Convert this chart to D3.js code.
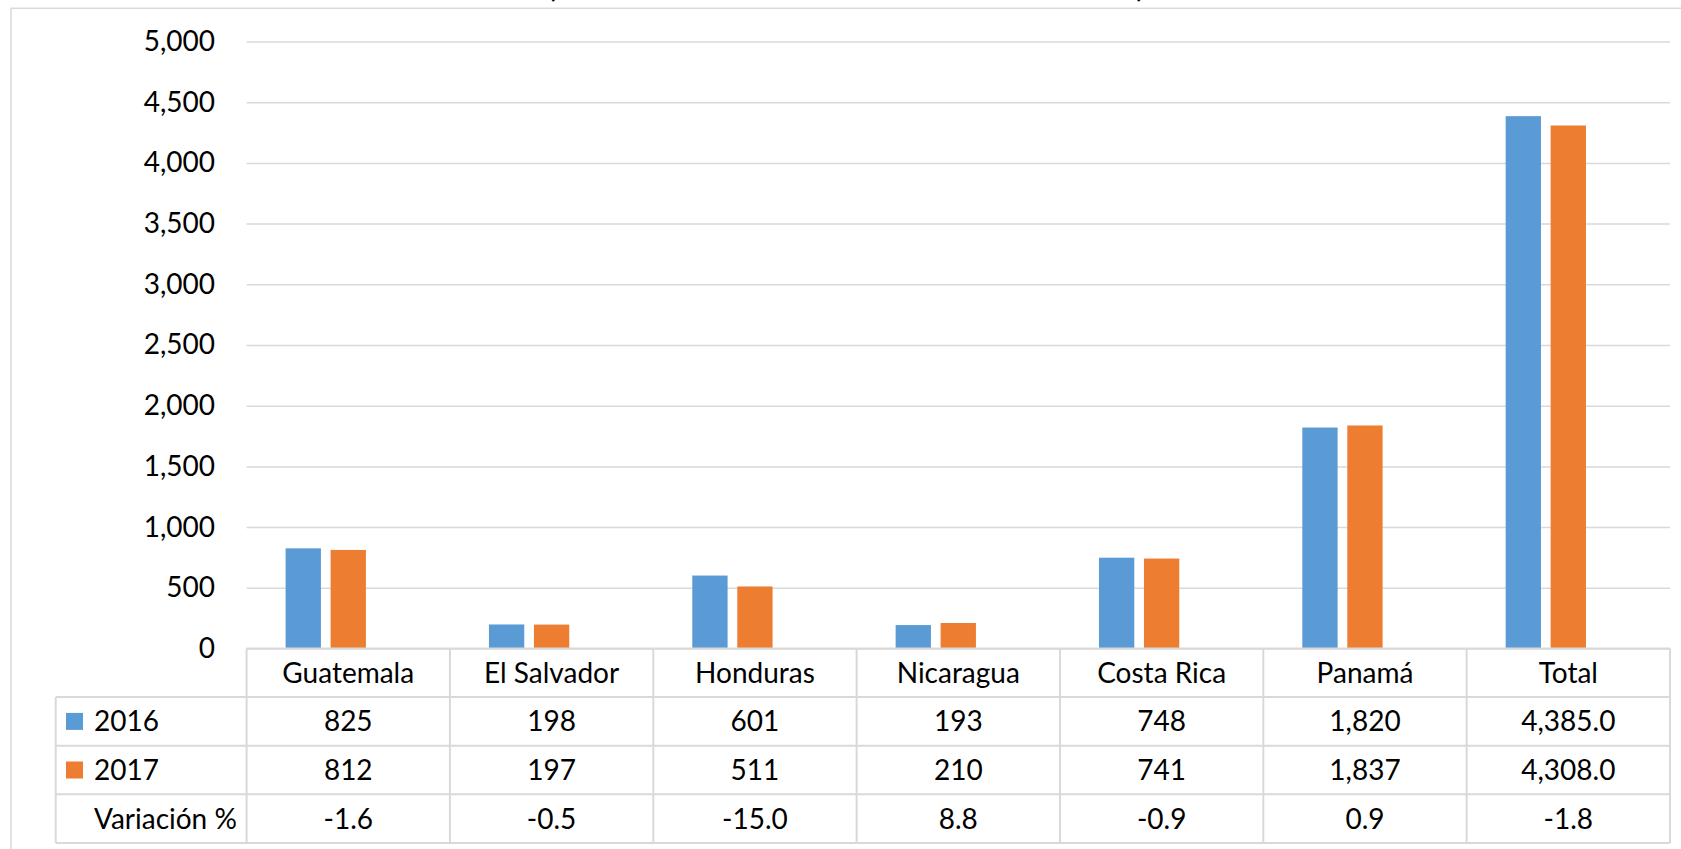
<!DOCTYPE html>
<html>
<head>
<meta charset="utf-8">
<script src="https://cdn.jsdelivr.net/npm/d3@7"></script>
<style>
  body { margin: 0; background: #fff; }
  text { font-family: Lato, "Noto Sans", sans-serif; fill: #000; }
</style>
</head>
<body>
<div id="chart-container"></div>
<script>
// chart data
const categories = ["Guatemala", "El Salvador", "Honduras", "Nicaragua", "Costa Rica", "Panamá", "Total"];
const seriesNames = ["2016", "2017"];
const values2016 = [825, 198, 601, 193, 748, 1820, 4385];
const values2017 = [812, 197, 511, 210, 741, 1837, 4308];
const variation = [-1.6, -0.5, -15.0, 8.8, -0.9, 0.9, -1.8];
const variationLabel = "Variación %";
const yTicks = [0, 500, 1000, 1500, 2000, 2500, 3000, 3500, 4000, 4500, 5000];
const title = "(En millones de dólares estadounidenses)";

const colors = {"2016": "#5b9bd5", "2017": "#ed7d31"};
const gridColor = "#d9d9d9";

const W = 1681, H = 849;
const plotLeft = 246.6, plotRight = 1670, plotTop = 41.5, plotBottom = 648.5;
const labelLeft = 55.7;
const rowH = 48.6;
const fontSize = 28;

const locale = d3.formatLocale({decimal: ".", thousands: ",", grouping: [3], currency: ["$", ""], minus: "-"});
const fmtInt = locale.format(",");
const fmtOne = locale.format(",.1f");
const fmtVar = locale.format(".1f");

const svg = d3.select("#chart-container")
  .append("svg")
  .attr("width", W)
  .attr("height", H);

// outer frame
svg.append("rect")
  .attr("x", 11).attr("y", 8.3)
  .attr("width", 1720).attr("height", 900)
  .attr("fill", "none")
  .attr("stroke", gridColor)
  .attr("stroke-width", 1.5);

// title (mostly above the visible area)
svg.append("text")
  .attr("x", 846).attr("y", -3)
  .attr("text-anchor", "middle")
  .attr("font-size", 33.5)
  .text(title);

// scales
const x = d3.scaleBand().domain(categories).range([plotLeft, plotRight]);
const xs = d3.scaleBand().domain(seriesNames).range([39, 119.3]).paddingInner(0.215);
const y = d3.scaleLinear().domain([0, 5000]).range([plotBottom, plotTop]);

// y axis with gridlines
const yAxis = svg.append("g")
  .attr("transform", `translate(${plotLeft},0)`)
  .call(d3.axisLeft(y)
    .tickValues(yTicks)
    .tickSizeInner(-(plotRight - plotLeft))
    .tickSizeOuter(0)
    .tickPadding(31.6)
    .tickFormat(fmtInt));
yAxis.select(".domain").remove();
yAxis.selectAll(".tick line").attr("stroke", gridColor).attr("stroke-width", 1.5);
yAxis.selectAll(".tick text")
  .attr("font-size", fontSize)
  .attr("font-family", "Lato, 'Noto Sans', sans-serif")
  .attr("fill", "#000");

// bars
const series = [
  {name: "2016", values: values2016},
  {name: "2017", values: values2017}
];
series.forEach(s => {
  svg.append("g")
    .selectAll("rect")
    .data(categories)
    .join("rect")
    .attr("x", (c) => x(c) + xs(s.name))
    .attr("width", xs.bandwidth())
    .attr("y", (c, i) => y(s.values[i]))
    .attr("height", (c, i) => y(0) - y(s.values[i]))
    .attr("fill", colors[s.name]);
});

// data table
const table = svg.append("g");
const rowTops = [0, 1, 2, 3, 4].map(k => plotBottom + k * rowH);
const tableBottom = rowTops[4];

// horizontal lines
rowTops.forEach((ry, k) => {
  table.append("line")
    .attr("x1", k === 0 ? plotLeft : labelLeft)
    .attr("x2", plotRight)
    .attr("y1", ry).attr("y2", ry)
    .attr("stroke", gridColor).attr("stroke-width", 2);
});
// vertical lines
categories.concat([null]).forEach(c => {
  const vx = c === null ? plotRight : x(c);
  table.append("line")
    .attr("x1", vx).attr("x2", vx)
    .attr("y1", plotBottom).attr("y2", tableBottom)
    .attr("stroke", gridColor).attr("stroke-width", 2);
});
table.append("line")
  .attr("x1", labelLeft).attr("x2", labelLeft)
  .attr("y1", rowTops[1]).attr("y2", tableBottom)
  .attr("stroke", gridColor).attr("stroke-width", 2);

// header row: category names
table.append("g")
  .selectAll("text")
  .data(categories)
  .join("text")
  .attr("x", c => x(c) + x.bandwidth() / 2)
  .attr("y", rowTops[0] + rowH / 2)
  .attr("dy", "0.36em")
  .attr("text-anchor", "middle")
  .attr("font-size", fontSize)
  .text(c => c);

// series rows
series.forEach((s, k) => {
  const cy = rowTops[k + 1] + rowH / 2;
  table.append("rect")
    .attr("x", 66).attr("y", cy - 8.5)
    .attr("width", 17).attr("height", 17)
    .attr("fill", colors[s.name]);
  table.append("text")
    .attr("x", 94).attr("y", cy).attr("dy", "0.36em")
    .attr("font-size", fontSize)
    .text(s.name);
  table.append("g")
    .selectAll("text")
    .data(categories)
    .join("text")
    .attr("x", c => x(c) + x.bandwidth() / 2)
    .attr("y", cy)
    .attr("dy", "0.36em")
    .attr("text-anchor", "middle")
    .attr("font-size", fontSize)
    .text((c, i) => i === categories.length - 1 ? fmtOne(s.values[i]) : fmtInt(s.values[i]));
});

// variation row
const vy = rowTops[3] + rowH / 2;
table.append("text")
  .attr("x", 94).attr("y", vy).attr("dy", "0.36em")
  .attr("font-size", fontSize)
  .text(variationLabel);
table.append("g")
  .selectAll("text")
  .data(categories)
  .join("text")
  .attr("x", c => x(c) + x.bandwidth() / 2)
  .attr("y", vy)
  .attr("dy", "0.36em")
  .attr("text-anchor", "middle")
  .attr("font-size", fontSize)
  .text((c, i) => fmtVar(variation[i]));
</script>
</body>
</html>
